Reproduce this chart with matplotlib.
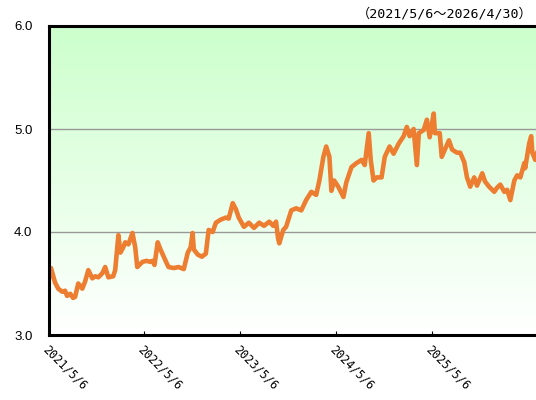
import numpy as np
import matplotlib
matplotlib.use('Agg')
import matplotlib.pyplot as plt
from matplotlib.colors import LinearSegmentedColormap


# Trading-day position of each sample and the value at it.
day_idx = [0, 5, 15, 23, 33, 40, 45, 53, 60, 65,
           73, 83, 90, 98, 108, 115, 123, 133, 140, 148,
           160, 165, 173, 178, 185, 190, 198, 208, 215, 220,
           233, 243, 253, 258, 263, 271, 278, 286, 293, 298,
           311, 323, 336, 346, 353, 358, 361, 371, 381, 391,
           398, 408, 416, 428, 441, 448, 458, 466, 473, 486,
           498, 511, 524, 536, 549, 559, 566, 571, 574, 584,
           591, 604, 616, 629, 641, 654, 666, 674, 684, 691,
           699, 704, 711, 721, 734, 741, 754, 767, 779, 787,
           797, 802, 809, 817, 829, 837, 849, 859, 872, 884,
           892, 899, 909, 917, 922, 934, 942, 949, 959, 962,
           974, 979, 987, 997, 1005, 1017, 1025, 1035, 1042, 1050,
           1060, 1067, 1080, 1087, 1097, 1110, 1117, 1125, 1135, 1142,
           1150, 1160, 1167, 1175, 1185, 1187, 1197, 1202, 1205, 1212,
           1219]
values = [3.55, 3.65, 3.51, 3.45, 3.42, 3.43, 3.38, 3.40, 3.36, 3.37,
          3.50, 3.45, 3.52, 3.63, 3.55, 3.57, 3.56, 3.60, 3.66, 3.56,
          3.57, 3.63, 3.97, 3.80, 3.85, 3.90, 3.88, 3.99, 3.85, 3.66,
          3.71, 3.72, 3.71, 3.72, 3.68, 3.90, 3.83, 3.76, 3.70, 3.66,
          3.65, 3.66, 3.64, 3.80, 3.85, 3.99, 3.83, 3.78, 3.76, 3.79,
          4.02, 4.00, 4.09, 4.12, 4.14, 4.13, 4.28, 4.22, 4.14, 4.05,
          4.09, 4.04, 4.09, 4.06, 4.10, 4.06, 4.10, 3.94, 3.89, 4.02,
          4.05, 4.21, 4.23, 4.21, 4.31, 4.39, 4.36, 4.50, 4.73, 4.83,
          4.73, 4.40, 4.50, 4.44, 4.34, 4.48, 4.63, 4.67, 4.70, 4.65,
          4.96, 4.70, 4.50, 4.53, 4.53, 4.73, 4.83, 4.76, 4.86, 4.93,
          5.02, 4.93, 5.00, 4.65, 4.96, 4.99, 5.09, 4.92, 5.15, 4.96,
          4.96, 4.73, 4.80, 4.89, 4.80, 4.77, 4.77, 4.68, 4.53, 4.44,
          4.53, 4.45, 4.57, 4.49, 4.44, 4.39, 4.43, 4.46, 4.39, 4.41,
          4.31, 4.50, 4.55, 4.53, 4.67, 4.62, 4.86, 4.93, 4.77, 4.70,
          4.80]
n_days = 1220

tick_idx = [0, 238, 477, 716, 955]
tick_labels = ['2021/5/6', '2022/5/6', '2023/5/6', '2024/5/6', '2025/5/6']
y_ticks = [3.0, 4.0, 5.0, 6.0]
period = '（2021/5/6～2026/4/30）'

# Monospaced half-width digits, CJK font for the full-width signs.
mono_jp = ['DejaVu Sans Mono', 'Noto Sans CJK JP']


fig = plt.figure(figsize=(5.36, 4.0), dpi=100)
ax = fig.add_axes([49/536, 65/400, 489/536, 309/400])

# Green-to-white gradient behind the plot.
cmap = LinearSegmentedColormap.from_list('bg', ['#ffffff', '#ccffcc'])
grad = np.linspace(0, 1, 256).reshape(-1, 1)
ax.imshow(grad, cmap=cmap, aspect='auto', origin='lower',
          extent=[0, n_days - 1, 3.0, 6.0], zorder=0)

# Horizontal grid lines.
for v in [4.0, 5.0]:
    ax.axhline(v, color='#999999', linewidth=1.0, zorder=1)

ax.plot(day_idx, values, color='#ed7d31', linewidth=3.3,
        solid_joinstyle='round', zorder=2)

ax.set_xlim(0, n_days - 1)
ax.set_ylim(3.0, 6.0)

ax.set_xticks(tick_idx)
ax.set_xticklabels(tick_labels, rotation=-45, ha='left', va='top',
                   rotation_mode='anchor', fontsize=8.5, family=mono_jp)
ax.tick_params(axis='x', direction='in', length=3, width=0.8, pad=6)

ax.set_yticks(y_ticks)
ax.set_yticklabels(['%.1f' % v for v in y_ticks], fontsize=9.5,
                   family='Liberation Sans')
ax.tick_params(axis='y', length=0, pad=12)

for side in ['top', 'left', 'bottom']:
    ax.spines[side].set_linewidth(2.2)
    ax.spines[side].set_color('black')
ax.spines['right'].set_visible(False)

fig.text(533/536, 1 - 14/400, period, ha='right', va='center', fontsize=9.5,
         family=mono_jp)

fig.savefig('out.png', dpi=100)
